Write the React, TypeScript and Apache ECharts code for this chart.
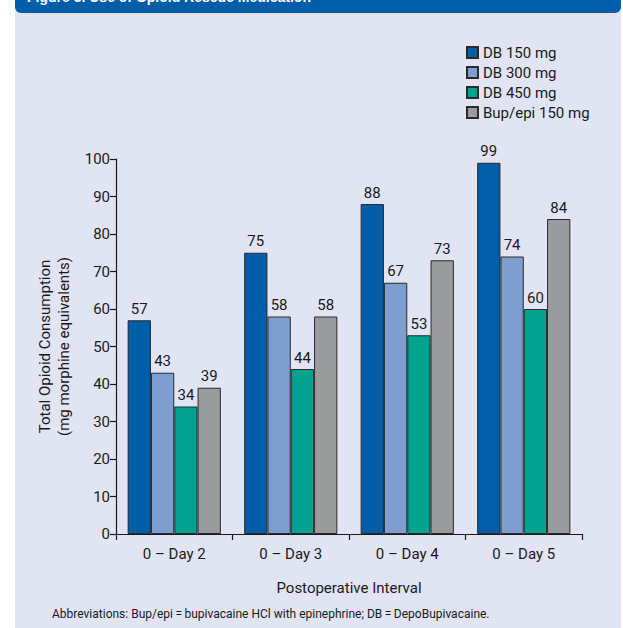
import React, { useEffect, useRef } from "react";
import * as echarts from "echarts";

const categories = ["0 – Day 2", "0 – Day 3", "0 – Day 4", "0 – Day 5"];
const seriesNames = ["DB 150 mg", "DB 300 mg", "DB 450 mg", "Bup/epi 150 mg"];
const db150 = [57, 75, 88, 99];
const db300 = [43, 58, 67, 74];
const db450 = [34, 44, 53, 60];
const bupepi = [39, 58, 73, 84];
const colors = ["#005da8", "#7f9ed0", "#00a38f", "#9a9b9e"];
const yTicks = { min: 0, max: 100, interval: 10 };

const FONT = "Roboto, 'Liberation Sans', Arial, sans-serif";

export default function App() {
  const ref = useRef<HTMLDivElement>(null);
  useEffect(() => {
    if (!ref.current) return;
    const chart = echarts.init(ref.current, undefined, { renderer: "svg" });
    const values = [db150, db300, db450, bupepi];
    chart.setOption({
      animation: false,
      backgroundColor: "#ffffff",
      textStyle: { fontFamily: FONT },
      graphic: [
        {
          type: "rect",
          z: -10,
          silent: true,
          shape: { x: 15, y: 0, width: 606, height: 640 },
          style: { fill: "#e1e4f3" },
        },
        {
          type: "rect",
          z: -5,
          silent: true,
          shape: { x: 15, y: -12, width: 606, height: 25, r: 6 },
          style: { fill: "#005ea8" },
        },
        {
          type: "text",
          z: -4,
          silent: true,
          x: 27,
          y: 4,
          style: {
            text: "Figure 3. Use of Opioid Rescue Medication",
            fill: "#ffffff",
            font: "bold 14px 'Liberation Sans', Arial, sans-serif",
            textVerticalAlign: "bottom",
          },
        },
        {
          type: "text",
          silent: true,
          x: 52,
          y: 614,
          style: {
            text: "Abbreviations: Bup/epi\u2009=\u2009bupivacaine HCl with epinephrine; DB\u2009=\u2009DepoBupivacaine.",
            fill: "#1a1a1a",
            font: "12px " + FONT,
            textVerticalAlign: "middle",
          },
        },
      ],
      legend: {
        orient: "vertical",
        left: 461,
        top: 40,
        itemWidth: 11,
        itemHeight: 11,
        itemGap: 5,
        icon: "rect",
        data: seriesNames,
        textStyle: { fontFamily: FONT, fontSize: 15, color: "#1a1a1a" },
      },
      grid: { left: 116, right: 41, top: 159, bottom: 94, containLabel: false },
      xAxis: {
        type: "category",
        data: categories,
        name: "Postoperative Interval",
        nameLocation: "middle",
        nameGap: 46,
        nameTextStyle: { fontFamily: FONT, fontSize: 15, color: "#1a1a1a" },
        axisLine: { lineStyle: { color: "#1a1a1a", width: 1.2 } },
        axisTick: { show: true, length: 6, lineStyle: { color: "#1a1a1a", width: 1.2 } },
        axisLabel: { fontFamily: FONT, fontSize: 15, color: "#1a1a1a", margin: 12 },
      },
      yAxis: {
        type: "value",
        min: yTicks.min,
        max: yTicks.max,
        interval: yTicks.interval,
        name: "Total Opioid Consumption\n(mg morphine equivalents)",
        nameLocation: "middle",
        nameGap: 42,
        nameTextStyle: { fontFamily: FONT, fontSize: 15, color: "#1a1a1a", lineHeight: 19 },
        splitLine: { show: false },
        axisLine: { show: true, lineStyle: { color: "#1a1a1a", width: 1.2 } },
        axisTick: { show: true, length: 6, lineStyle: { color: "#1a1a1a", width: 1.2 } },
        axisLabel: { fontFamily: FONT, fontSize: 15, color: "#1a1a1a", margin: 6 },
      },
      series: seriesNames.map((name, i) => ({
        name,
        type: "bar",
        data: values[i],
        barGap: "0%",
        barCategoryGap: "20%",
        itemStyle: { color: colors[i], borderColor: "#2a2a2a", borderWidth: 1 },
        label: {
          show: true,
          position: "top",
          distance: 4,
          fontFamily: FONT,
          fontSize: 15,
          color: "#1a1a1a",
        },
      })),
    });
    return () => chart.dispose();
  }, []);
  return (
    <div
      ref={ref}
      style={{ position: "fixed", left: 0, top: 0, width: 623, height: 628 }}
    />
  );
}
